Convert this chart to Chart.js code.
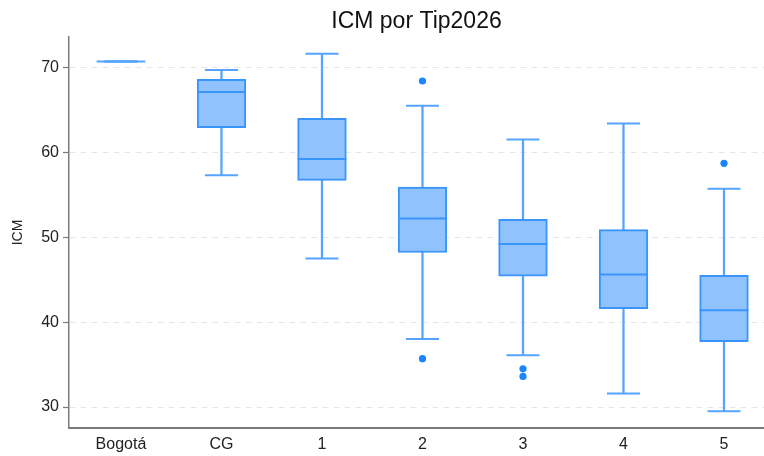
<!DOCTYPE html>
<html><head><meta charset="utf-8">
<script src="https://cdn.jsdelivr.net/npm/chart.js@4/dist/chart.umd.min.js"></script>
<style>html,body{margin:0;padding:0;background:#fff}#wrap{width:764px;height:456px}</style>
</head><body><div id="wrap"><canvas id="c" width="764" height="456"></canvas></div>
<script>
const categories = ['Bogotá', 'CG', '1', '2', '3', '4', '5'];
const whiskerLow  = [70.7, 57.3, 47.5, 38.0, 36.1, 31.6, 29.5];
const q1          = [70.7, 62.9, 56.7, 48.2, 45.4, 41.6, 37.7];
const median      = [70.7, 67.1, 59.2, 52.2, 49.2, 45.6, 41.4];
const q3          = [70.7, 68.6, 64.0, 55.9, 52.1, 50.9, 45.5];
const whiskerHigh = [70.7, 69.7, 71.6, 65.5, 61.5, 63.4, 55.7];
const outliers    = [[], [], [], [68.4, 35.7], [34.5, 33.6], [], [58.7]];
const yTicks = [30, 40, 50, 60, 70];

const FILL = '#90c3fd', EDGE = '#3a95fb', WHISK = '#55a4ff', DOT = '#1a85ff';
Chart.defaults.font.family = "'Liberation Sans', Arial, sans-serif";

const idx = categories.map((c, i) => i);
const outlierPts = [];
outliers.forEach((arr, i) => arr.forEach(v => outlierPts.push({x: i, y: v})));

new Chart(document.getElementById('c'), {
  type: 'bar',
  data: {
    datasets: [
      { type: 'bar', order: 6, grouped: false, barThickness: 1.6,
        data: idx.map(i => ({x: i, y: [whiskerLow[i], whiskerHigh[i]]})),
        backgroundColor: WHISK, borderWidth: 0 },
      { type: 'bar', order: 5, grouped: false, barThickness: 48.7,
        data: idx.map(i => ({x: i, y: [q1[i], q3[i]]})),
        backgroundColor: FILL, borderColor: EDGE, borderWidth: 2, borderSkipped: false },
      { type: 'scatter', order: 4, data: idx.map(i => ({x: i, y: whiskerHigh[i]})),
        pointStyle: 'line', pointRadius: 16.5, borderColor: WHISK, pointBorderWidth: 2, borderWidth: 2 },
      { type: 'scatter', order: 4, data: idx.map(i => ({x: i, y: whiskerLow[i]})),
        pointStyle: 'line', pointRadius: 16.5, borderColor: WHISK, pointBorderWidth: 2, borderWidth: 2 },
      { type: 'scatter', order: 3, data: idx.map(i => ({x: i, y: median[i]})),
        pointStyle: 'line', pointRadius: 24.35, pointBorderWidth: 2, borderWidth: 2,
        borderColor: c => (q1[c.dataIndex] === q3[c.dataIndex] ? WHISK : EDGE),
        pointBorderColor: c => (q1[c.dataIndex] === q3[c.dataIndex] ? WHISK : EDGE) },
      { type: 'scatter', order: 1, data: outlierPts,
        pointStyle: 'circle', pointRadius: 3.6, backgroundColor: DOT, borderColor: DOT, borderWidth: 0 }
    ]
  },
  options: {
    responsive: false, animation: false, devicePixelRatio: 1,
    layout: { padding: 0, autoPadding: false },
    plugins: {
      legend: { display: false }, tooltip: { enabled: false },
      title: { display: true, text: 'ICM por Tip2026', fullSize: false, color: '#111',
        font: { size: 23, weight: 'normal', lineHeight: 1.15 }, padding: { top: 8.5, bottom: 2 } }
    },
    scales: {
      x: {
        type: 'linear', offset: false, min: -0.517, max: 6.398,
        afterBuildTicks: s => { s.ticks = idx.map(i => ({value: i})); },
        afterFit: s => { s.height = 28; s.paddingLeft = 0; s.paddingRight = 0; },
        grid: { display: false, drawTicks: false },
        border: { display: true, color: '#7a7a7a', width: 2 },
        ticks: { autoSkip: false, maxRotation: 0, padding: 7, color: '#222', font: { size: 16 },
          callback: v => categories[v] }
      },
      y: {
        type: 'linear', min: 27.53, max: 73.59,
        afterBuildTicks: s => { s.ticks = yTicks.map(v => ({value: v})); },
        afterFit: s => { s.width = 69; s.paddingTop = 0; s.paddingBottom = 0; },
        grid: { color: '#e6e6e6', lineWidth: 1, tickLength: 6, tickColor: '#7a7a7a', tickWidth: 1.2, tickBorderDash: [] },
        border: { display: true, color: '#7a7a7a', width: 1.5, dash: [6, 5] },
        ticks: { padding: 4, color: '#222', font: { size: 16 } },
        title: { display: true, text: 'ICM', color: '#222', font: { size: 14 }, padding: { top: 10, bottom: 0 } }
      }
    }
  }
});
</script></body></html>
